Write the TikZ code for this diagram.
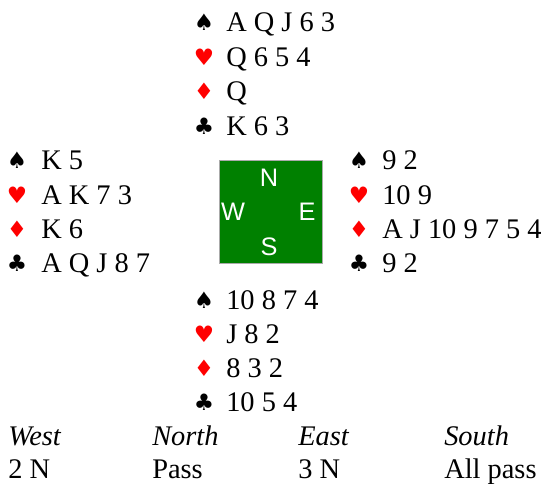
\documentclass[tikz,border=0pt]{standalone}
\usepackage{fontspec}
\setmainfont{Liberation Serif}
\newfontfamily\suitfont{DejaVu Sans}
\newfontfamily\seatfont{Liberation Sans}
\definecolor{tablegreen}{RGB}{0,128,0}
\definecolor{suitred}{RGB}{255,0,0}

\begin{document}
\begin{tikzpicture}[x=0.75pt,y=0.75pt,yscale=-1,xscale=1,
  holding/.style={anchor=base west,inner sep=0pt,font=\fontsize{21.3}{25}\selectfont},
  pip/.style={anchor=center,inner sep=0pt,font=\suitfont\fontsize{17}{19}\selectfont},
  redpip/.style={pip,text=suitred},
  seat/.style={anchor=center,inner sep=0pt,text=white,font=\seatfont\fontsize{19}{21}\selectfont},
  call/.style={anchor=base west,inner sep=0pt,font=\fontsize{21.3}{25}\selectfont}]
\path[use as bounding box] (0,0) rectangle (545,483);

%Table
\draw[draw={rgb,255:red,170;green,170;blue,170},fill=tablegreen] (219,160) rectangle (322,263);
\node[seat] (seatN) at (269,178) {N};
\node[seat] (seatW) at (233,212) {W};
\node[seat] (seatE) at (307,212) {E};
\node[seat] (seatS) at (269,247) {S};

%North
\node[pip] (nS) at (204,22) {♠};
\node[holding] (nSc) at (226,31) {A Q J 6 3};
\node[redpip] (nH) at (204,57) {♥};
\node[holding] (nHc) at (226,66) {Q 6 5 4};
\node[redpip] (nD) at (204,91) {♦};
\node[holding] (nDc) at (226,100) {Q};
\node[pip] (nC) at (204,126) {♣};
\node[holding] (nCc) at (226,135) {K 6 3};

%West
\node[pip] (wS) at (17,160) {♠};
\node[holding] (wSc) at (41,169) {K 5};
\node[redpip] (wH) at (17,195) {♥};
\node[holding] (wHc) at (41,204) {A K 7 3};
\node[redpip] (wD) at (17,229) {♦};
\node[holding] (wDc) at (41,238) {K 6};
\node[pip] (wC) at (17,263) {♣};
\node[holding] (wCc) at (41,272) {A Q J 8 7};

%East
\node[pip] (eS) at (359,160) {♠};
\node[holding] (eSc) at (382,169) {9 2};
\node[redpip] (eH) at (359,195) {♥};
\node[holding] (eHc) at (382,204) {10 9};
\node[redpip] (eD) at (359,229) {♦};
\node[holding] (eDc) at (382,238) {A J 10 9 7 5 4};
\node[pip] (eC) at (359,263) {♣};
\node[holding] (eCc) at (382,272) {9 2};

%South
\node[pip] (sS) at (204,300) {♠};
\node[holding] (sSc) at (226,309) {10 8 7 4};
\node[redpip] (sH) at (204,334) {♥};
\node[holding] (sHc) at (226,343) {J 8 2};
\node[redpip] (sD) at (204,368) {♦};
\node[holding] (sDc) at (226,377) {8 3 2};
\node[pip] (sC) at (204,402) {♣};
\node[holding] (sCc) at (226,411) {10 5 4};

%Auction
\node[call] (hdW) at (8,445) {\itshape West};
\node[call] (hdN) at (152,445) {\itshape North};
\node[call] (hdE) at (298,445) {\itshape East};
\node[call] (hdS) at (444,445) {\itshape South};
\node[call] (bidW) at (8,478) {2 N};
\node[call] (bidN) at (152,478) {Pass};
\node[call] (bidE) at (298,478) {3 N};
\node[call] (bidS) at (444,478) {All pass};

\end{tikzpicture}
\end{document}
